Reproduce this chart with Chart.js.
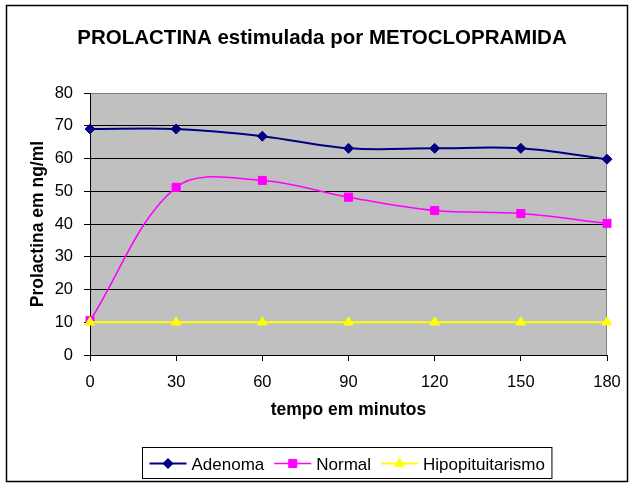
<!DOCTYPE html>
<html>
<head>
<meta charset="utf-8">
<script src="https://cdn.jsdelivr.net/npm/chart.js@4.4.0/dist/chart.umd.min.js"></script>
<style>
html, body { margin: 0; padding: 0; background: #fff; }
canvas { display: block; }
</style>
</head>
<body>
<canvas id="chart" width="630" height="484"></canvas>
<script>
var titleText = 'PROLACTINA estimulada por METOCLOPRAMIDA';
var xTitle = 'tempo em minutos';
var yTitle = 'Prolactina em ng/ml';

var minutes = ['0', '30', '60', '90', '120', '150', '180'];
var adenoma = [69, 69, 66.8, 63.1, 63.1, 63.1, 59.8];
var normal = [10.5, 51.2, 53.3, 48.2, 44.1, 43.2, 40.2];
var hipo = [10, 10, 10, 10, 10, 10, 10];

var yMin = 0;
var yMax = 80;
var yStep = 10;

var FONT = '"Liberation Sans", Arial, sans-serif';

function drawMarker(ctx, style, x, y, r, fill, stroke) {
  ctx.beginPath();
  if (style == 'rectRot') {
    ctx.moveTo(x, y - r);
    ctx.lineTo(x + r, y);
    ctx.lineTo(x, y + r);
    ctx.lineTo(x - r, y);
  } else if (style == 'rect') {
    var s = r * Math.SQRT1_2;
    ctx.rect(x - s, y - s, 2 * s, 2 * s);
  } else {
    var h = r * 1.5;
    var w = r * Math.sqrt(3) / 2;
    ctx.moveTo(x - w, y + h / 3);
    ctx.lineTo(x + w, y + h / 3);
    ctx.lineTo(x, y - 2 * h / 3);
  }
  ctx.closePath();
  ctx.fillStyle = fill;
  ctx.fill();
  ctx.strokeStyle = stroke;
  ctx.lineWidth = 1;
  ctx.stroke();
}

var excelLook = {
  id: 'excelLook',
  beforeDraw: function (chart) {
    var ctx = chart.ctx;
    var a = chart.chartArea;
    ctx.save();
    ctx.fillStyle = '#fff';
    ctx.fillRect(0, 0, chart.width, chart.height);
    ctx.fillStyle = '#c0c0c0';
    ctx.fillRect(a.left, a.top, a.right - a.left, a.bottom - a.top);
    ctx.restore();
  },
  beforeDatasetsDraw: function (chart) {
    var ctx = chart.ctx;
    var a = chart.chartArea;
    ctx.save();
    ctx.strokeStyle = '#808080';
    ctx.lineWidth = 1;
    ctx.beginPath();
    ctx.moveTo(Math.round(a.right) - 0.5, a.top);
    ctx.lineTo(Math.round(a.right) - 0.5, a.bottom);
    ctx.stroke();
    ctx.restore();
  },
  afterDraw: function (chart) {
    var ctx = chart.ctx;
    var a = chart.chartArea;
    ctx.save();
    // title
    ctx.fillStyle = '#000';
    ctx.font = 'bold 20.5px ' + FONT;
    ctx.textAlign = 'center';
    ctx.textBaseline = 'alphabetic';
    ctx.fillText(titleText, 322, 43.5);

    // outer frame
    ctx.strokeStyle = '#000';
    ctx.lineWidth = 1.5;
    ctx.strokeRect(6.5, 5.5, 621, 476);

    // legend
    ctx.font = '17px ' + FONT;
    ctx.textAlign = 'left';
    var sets = chart.data.datasets;
    var lineLen = 37, gapText = 5, gapItem = 10, pad = 7;
    var total = 0;
    sets.forEach(function (ds, i) {
      total += lineLen + gapText + ctx.measureText(ds.label).width;
      if (i < sets.length - 1) total += gapItem;
    });
    var boxW = total + pad * 2;
    var cx = (a.left + a.right) / 2 - 2;
    var bx = Math.round(cx - boxW / 2) + 0.5;
    var by = 447.5, bh = 31;
    ctx.lineWidth = 1;
    ctx.strokeStyle = '#000';
    ctx.strokeRect(bx, by, boxW, bh);
    var x = bx + pad;
    var ly = 463.5;
    sets.forEach(function (ds) {
      ctx.strokeStyle = ds.borderColor;
      ctx.lineWidth = ds.borderWidth;
      ctx.beginPath();
      ctx.moveTo(x, ly);
      ctx.lineTo(x + lineLen, ly);
      ctx.stroke();
      drawMarker(ctx, ds.pointStyle, x + lineLen / 2, ly, ds.pointRadius, ds.pointBackgroundColor, ds.pointBorderColor);
      x += lineLen + gapText;
      ctx.fillStyle = '#000';
      ctx.fillText(ds.label, x, 469.5);
      x += ctx.measureText(ds.label).width + gapItem;
    });
    ctx.restore();
  }
};

var chart = new Chart(document.getElementById('chart'), {
  type: 'line',
  data: {
    labels: minutes,
    datasets: [{
      label: 'Adenoma',
      data: adenoma,
      borderColor: '#000080',
      borderWidth: 2,
      pointStyle: 'rectRot',
      pointRadius: 5,
      pointBackgroundColor: '#000080',
      pointBorderColor: '#000080',
      pointBorderWidth: 1,
      tension: 0.35,
      clip: false,
      order: 2
    }, {
      label: 'Normal',
      data: normal,
      borderColor: '#ff00ff',
      borderWidth: 1.5,
      pointStyle: 'rect',
      pointRadius: 5.7,
      pointBackgroundColor: '#ff00ff',
      pointBorderColor: '#ff00ff',
      pointBorderWidth: 1,
      tension: 0.35,
      clip: false,
      order: 1
    }, {
      label: 'Hipopituitarismo',
      data: hipo,
      borderColor: '#ffff00',
      borderWidth: 2,
      pointStyle: 'triangle',
      pointRadius: 5.5,
      pointBackgroundColor: '#ffff00',
      pointBorderColor: '#ffff00',
      pointBorderWidth: 1,
      tension: 0.35,
      clip: false,
      order: 0
    }]
  },
  options: {
    responsive: false,
    animation: false,
    layout: { padding: { left: 28, top: 93, right: 23, bottom: 59 } },
    plugins: {
      legend: { display: false },
      title: { display: false },
      tooltip: { enabled: false }
    },
    scales: {
      x: {
        offset: false,
        ticks: { color: '#000', font: { family: FONT, size: 16.5 }, padding: 12, maxRotation: 0, autoSkip: false },
        grid: { drawOnChartArea: false, drawTicks: true, tickLength: 6, color: '#000', offset: false },
        border: { color: '#000', width: 1 },
        title: { display: true, text: xTitle, color: '#000', font: { family: FONT, size: 17.5, weight: 'bold' }, padding: { top: 0, bottom: 4.5 } },
        afterFit: function (s) { s.height = 70; s.paddingLeft = 0; s.paddingRight = 0; }
      },
      y: {
        min: yMin,
        max: yMax,
        ticks: { stepSize: yStep, color: '#000', font: { family: FONT, size: 16.5 }, padding: 11 },
        grid: {
          color: function (c) { return c.tick && c.tick.value == yMax ? '#808080' : '#000'; },
          tickColor: '#000',
          tickLength: 6,
          lineWidth: 1
        },
        border: { color: '#000', width: 1 },
        title: { display: true, text: yTitle, color: '#000', font: { family: FONT, size: 17.5, weight: 'bold' }, padding: { top: 0, bottom: 0 } },
        afterFit: function (s) { s.width = 62; s.paddingTop = 0; s.paddingBottom = 0; }
      }
    }
  },
  plugins: [excelLook]
});
</script>
</body>
</html>
